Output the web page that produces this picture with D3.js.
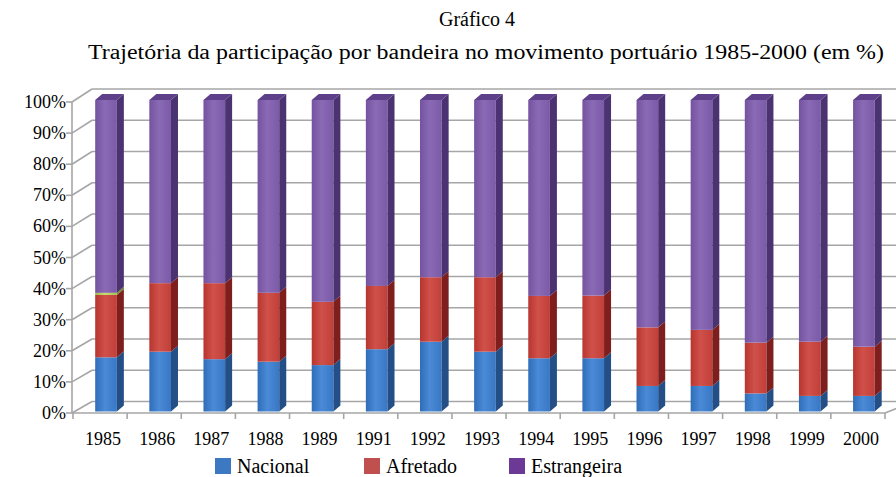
<!DOCTYPE html>
<html><head><meta charset="utf-8">
<script src="https://cdn.jsdelivr.net/npm/d3@7"></script>
<style>body{margin:0;background:#fff}svg{display:block}</style>
</head><body><svg id="c" width="896" height="477"></svg>
<script>
const years = ["1985","1986","1987","1988","1989","1991","1992","1993","1994","1995","1996","1997","1998","1999","2000"];
const nacional = [17.4,19.2,16.8,16.0,14.9,20.0,22.4,19.2,17.1,17.1,8.2,8.2,5.8,5.0,5.0];
const afretado = [20.0,22.0,24.4,22.1,20.3,20.3,20.7,23.9,20.0,20.1,18.8,18.0,16.3,17.4,15.8];
const outros = [0.7,0,0,0,0,0,0,0,0,0,0,0,0,0,0];
const estrangeira = years.map((d,i)=>+(100-nacional[i]-afretado[i]-outros[i]).toFixed(1));
const yTicks = [0,10,20,30,40,50,60,70,80,90,100];
const seriesNames = ["Nacional","Afretado","Outros","Estrangeira"];
const legendNames = ["Nacional","Afretado","Estrangeira"];

const FONT = "'Liberation Serif', 'Times New Roman', Times, 'DejaVu Serif', serif";
const svg = d3.select("#c");
const colors = {
  Nacional:{front:["#2f6db8","#4a8ad6","#3877c4"],side:"#234f86",top:"#5a92d4",legend:"#3d79c2"},
  Afretado:{front:["#b8352f","#d0514a","#c13f39"],side:"#7e1f1d",top:"#d66a64",legend:"#c0504d"},
  Outros:{front:["#9bb84a","#c6dc6a","#a8c255"],side:"#6e8a2a",top:"#c8dc80",legend:"#9bbb59"},
  Estrangeira:{front:["#74529f","#8a6ab5","#7b5aa8"],side:"#4b3270",top:"#5d3f8a",legend:"#6c3996"}
};
const defs = svg.append("defs");
seriesNames.forEach(s=>{
  const g = defs.append("linearGradient").attr("id","g"+s).attr("x1","0").attr("x2","1").attr("y1","0").attr("y2","0");
  g.append("stop").attr("offset","0").attr("stop-color",colors[s].front[0]);
  g.append("stop").attr("offset","0.45").attr("stop-color",colors[s].front[1]);
  g.append("stop").attr("offset","1").attr("stop-color",colors[s].front[2]);
});

const x = d3.scaleBand().domain(years).range([73,885]).padding(0);
const yFront = d3.scaleLinear().domain([0,100]).range([413,102]);
const yBack = d3.scaleLinear().domain([0,100]).range([401.5,89]);
const yBar = d3.scaleLinear().domain([0,100]).range([411.5,100]);
const wallDx = 20, barDx = 7, barDy = -6;

function txt(g){ return g.append("text").attr("font-family",FONT).attr("fill","#000"); }

txt(svg).attr("x",477).attr("y",26).attr("text-anchor","middle").attr("font-size",20).text("Gráfico 4");
txt(svg).attr("x",88).attr("y",59).attr("font-size",20)
  .attr("textLength",796).attr("lengthAdjust","spacingAndGlyphs")
  .text("Trajetória da participação por bandeira no movimento portuário 1985-2000 (em %)");

const grid = svg.append("g").attr("stroke","#a6a6a6").attr("stroke-width",1.6).attr("fill","none");
yTicks.forEach(v=>{
  grid.append("line").attr("x1",72).attr("y1",yFront(v)).attr("x2",72+wallDx).attr("y2",yBack(v));
  grid.append("line").attr("x1",72+wallDx).attr("y1",yBack(v)).attr("x2",896).attr("y2",yBack(v));
  grid.append("line").attr("x1",66).attr("y1",yFront(v)).attr("x2",72).attr("y2",yFront(v));
});
grid.append("line").attr("x1",72).attr("y1",yFront(0)).attr("x2",72).attr("y2",yFront(100));
grid.append("line").attr("x1",72).attr("y1",yFront(0)).attr("x2",885).attr("y2",yFront(0));
grid.append("line").attr("x1",885).attr("y1",yFront(0)).attr("x2",905).attr("y2",yFront(0)-8);
years.concat(["end"]).forEach((d,i)=>{
  const xx = i<years.length ? x(d) : x.range()[1];
  grid.append("line").attr("x1",xx).attr("y1",yFront(0)).attr("x2",xx).attr("y2",yFront(0)+6);
});

const yl = svg.append("g");
yTicks.forEach(v=>{ txt(yl).attr("x",66).attr("y",yFront(v)+6).attr("text-anchor","end").attr("font-size",18).text(v+"%"); });
const xl = svg.append("g");
years.forEach(d=>{ txt(xl).attr("x",x(d)+x.bandwidth()/2+3).attr("y",445).attr("text-anchor","middle").attr("font-size",18).text(d); });

const table = years.map((y,i)=>({year:y,Nacional:nacional[i],Afretado:afretado[i],Outros:outros[i],Estrangeira:estrangeira[i]}));
const stack = d3.stack().keys(seriesNames)(table);
const bw = x.bandwidth()*0.4;
const bars = svg.append("g");
years.forEach((yr,i)=>{
  const x0 = x(yr)+x.bandwidth()*0.41;
  stack.forEach((layer,li)=>{
    const s = layer.key;
    const [a,b] = layer[i];
    if (b-a<=0) return;
    const yt = yBar(b), yb = yBar(a);
    bars.append("rect").attr("x",x0).attr("y",yt).attr("width",bw).attr("height",yb-yt).attr("fill","url(#g"+s+")");
    bars.append("path").attr("d",`M${x0+bw},${yt}L${x0+bw+barDx},${yt+barDy}L${x0+bw+barDx},${yb+barDy}L${x0+bw},${yb}Z`).attr("fill",colors[s].side);
    if (li===stack.length-1) {
      bars.append("path").attr("d",`M${x0},${yt}L${x0+barDx},${yt+barDy}L${x0+bw+barDx},${yt+barDy}L${x0+bw},${yt}Z`).attr("fill",colors[s].top);
    }
  });
});

const legX = [215,364,509];
const lg = svg.append("g");
legendNames.forEach((n,i)=>{
  lg.append("rect").attr("x",legX[i]).attr("y",458).attr("width",16).attr("height",16).attr("fill",colors[n].legend);
  txt(lg).attr("x",legX[i]+22).attr("y",473).attr("font-size",20).text(n);
});
</script></body></html>
